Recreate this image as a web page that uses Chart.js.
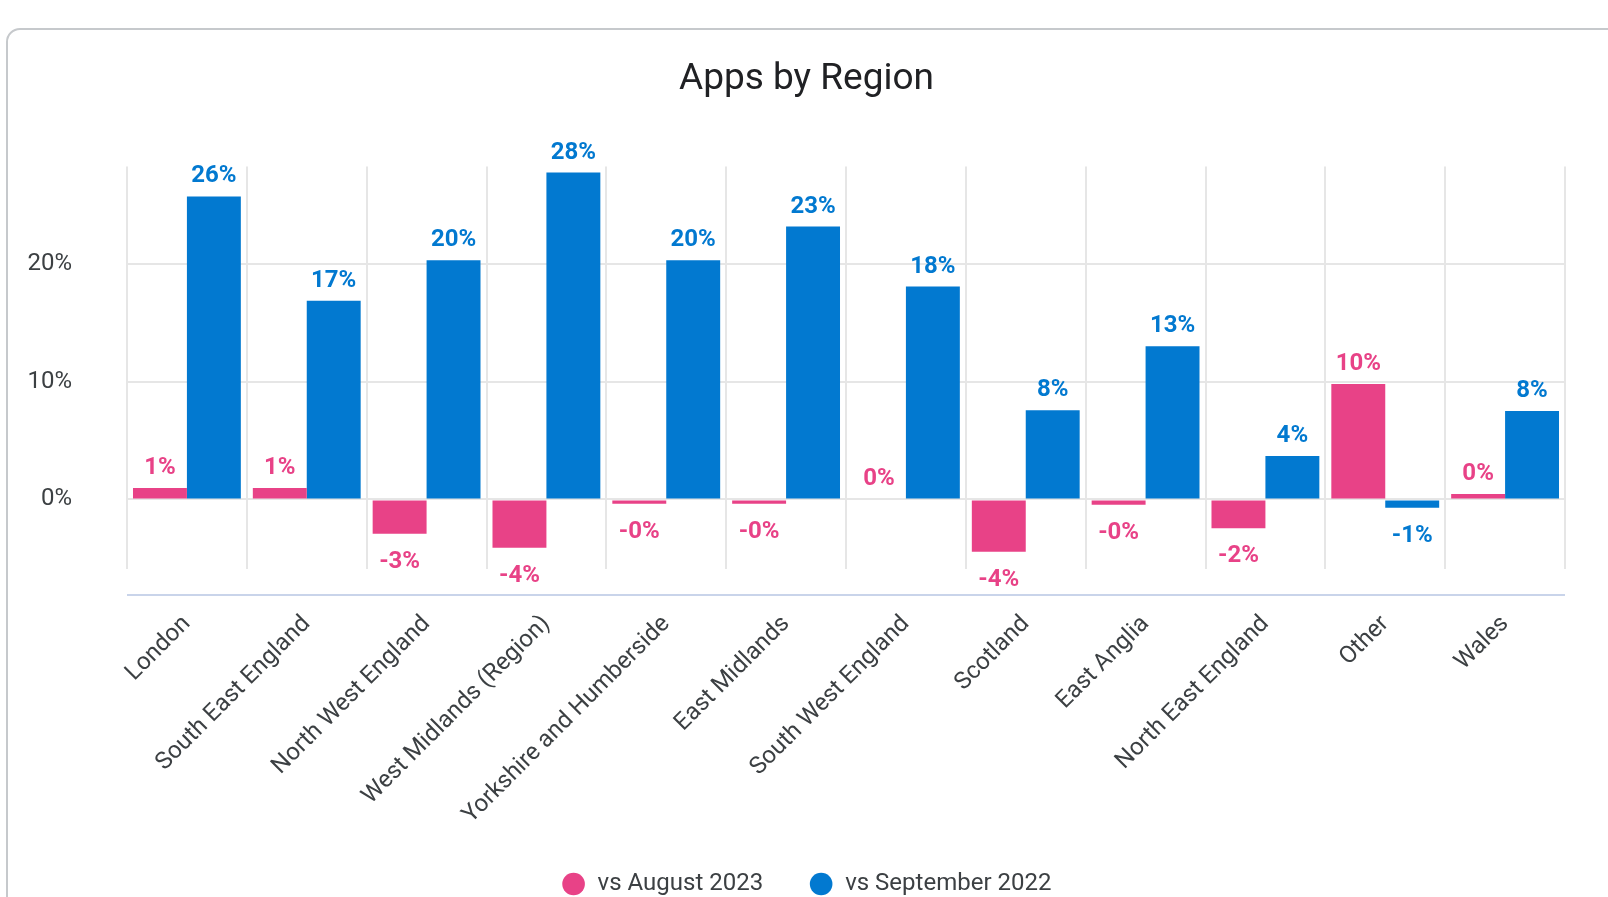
<!DOCTYPE html>
<html>
<head>
<meta charset="utf-8">
<script src="https://cdn.jsdelivr.net/npm/chart.js@4.4.1/dist/chart.umd.min.js"></script>
<style>
  html, body { margin: 0; padding: 0; background: #ffffff; overflow: hidden; width: 1608px; height: 897px; }
  #card { position: absolute; left: 6px; top: 28px; width: 1700px; height: 1000px; border: 2px solid #c6c9cc; border-radius: 14px; background: #ffffff; }
  #chart { position: absolute; left: 0; top: 0; }
</style>
</head>
<body>
<div id="card"></div>
<canvas id="chart" width="1640" height="906"></canvas>
<script>
const categories = ['London', 'South East England', 'North West England', 'West Midlands (Region)', 'Yorkshire and Humberside', 'East Midlands', 'South West England', 'Scotland', 'East Anglia', 'North East England', 'Other', 'Wales'];
const vsAugust2023 = [0.96, 0.96, -2.92, -4.11, -0.37, -0.37, 0.0, -4.45, -0.45, -2.45, 9.82, 0.45];
const vsSeptember2022 = [25.77, 16.9, 20.33, 27.8, 20.33, 23.2, 18.1, 7.59, 13.02, 3.68, -0.71, 7.52];
const seriesNames = ['vs August 2023', 'vs September 2022'];
const yTickValues = [0, 10, 20];
const titleText = 'Apps by Region';

const PINK = '#e84287';
const BLUE = '#0279d0';
const TEXT = '#3c4043';
const FONT = 'Roboto';

function fmtPct(v) {
  const r = Math.round(Math.abs(v));
  return (v < 0 ? '-' : '') + r + '%';
}

const valueLabels = {
  id: 'valueLabels',
  afterDatasetsDraw(chart) {
    const ctx = chart.ctx;
    ctx.save();
    ctx.font = 'bold 24px ' + FONT;
    ctx.textAlign = 'center';
    ctx.textBaseline = 'alphabetic';
    chart.data.datasets.forEach((ds, i) => {
      const meta = chart.getDatasetMeta(i);
      meta.data.forEach((bar, j) => {
        const v = ds.data[j];
        ctx.fillStyle = ds.backgroundColor;
        const y = v >= 0 ? bar.y - 14 : bar.y + 34;
        ctx.fillText(fmtPct(v), bar.x, y);
      });
    });
    ctx.restore();
  }
};

const axisLine = {
  id: 'axisLine',
  beforeDatasetsDraw(chart) {
    const {ctx, chartArea} = chart;
    ctx.save();
    ctx.strokeStyle = '#c9d4ea';
    ctx.lineWidth = 2;
    ctx.beginPath();
    const y = chartArea.bottom + 26;
    ctx.moveTo(chartArea.left, y);
    ctx.lineTo(chartArea.right, y);
    ctx.stroke();
    ctx.restore();
  }
};

new Chart(document.getElementById('chart'), {
  type: 'bar',
  data: {
    labels: categories,
    datasets: [
      { label: seriesNames[0], data: vsAugust2023, backgroundColor: PINK, borderWidth: 0, categoryPercentage: 0.9, barPercentage: 1.0 },
      { label: seriesNames[1], data: vsSeptember2022, backgroundColor: BLUE, borderWidth: 0, categoryPercentage: 0.9, barPercentage: 1.0 }
    ]
  },
  options: {
    responsive: false,
    animation: false,
    devicePixelRatio: 1,
    layout: { padding: { left: 28, right: 55, top: 0, bottom: 0 } },
    plugins: {
      title: {
        display: true,
        text: titleText,
        color: '#202124',
        font: { family: FONT, size: 37, weight: '400' },
        padding: { top: 58, bottom: 64 }
      },
      legend: {
        display: true,
        position: 'bottom',
        labels: {
          usePointStyle: true,
          pointStyle: 'circle',
          boxWidth: 24,
          boxHeight: 16,
          padding: 46,
          color: TEXT,
          font: { family: FONT, size: 24 }
        }
      },
      tooltip: { enabled: false }
    },
    scales: {
      x: {
        grid: { display: true, color: '#e6e6e6', lineWidth: 2, drawTicks: false, offset: true },
        border: { display: false },
        ticks: {
          autoSkip: false,
          minRotation: 45,
          maxRotation: 45,
          padding: 41,
          color: TEXT,
          font: { family: FONT, size: 24 }
        },
        afterFit(scale) { scale.height = 257; }
      },
      y: {
        min: -5.92,
        max: 28.32,
        grid: { color: '#e6e6e6', lineWidth: 2, drawTicks: false },
        border: { display: false },
        ticks: {
          padding: 55,
          color: TEXT,
          font: { family: FONT, size: 24 },
          callback: (v) => v + '%'
        },
        afterBuildTicks(scale) { scale.ticks = yTickValues.map(v => ({ value: v })); },
        afterFit(scale) { scale.width = 99; }
      },
      ySpacer: {
        position: 'right',
        display: true,
        grid: { display: false },
        border: { display: false },
        ticks: { display: false },
        afterFit(scale) { scale.width = 20; }
      }
    }
  },
  plugins: [valueLabels, axisLine]
});
</script>
</body>
</html>
